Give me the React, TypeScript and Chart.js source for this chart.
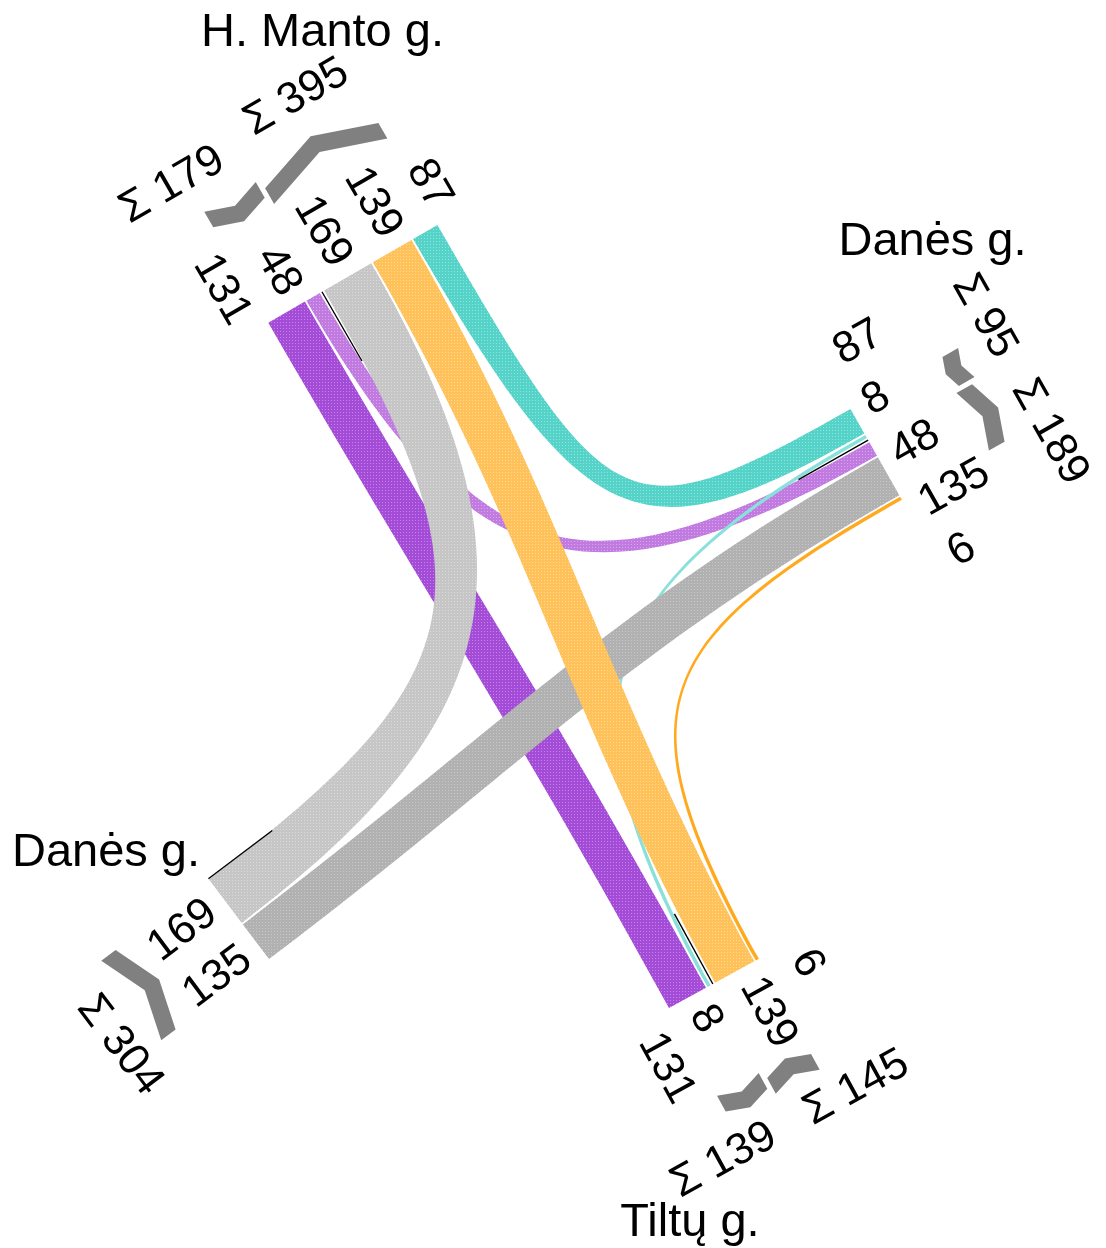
import React, { useEffect, useRef } from "react";
import { Chart, registerables } from "chart.js";

Chart.register(...registerables);

// ---------- data ----------
const STREETS = ["H. Manto g.", "Danės g.", "Tiltų g.", "Danės g."];
// arm index: 0 = top (H. Manto), 1 = right (Danės), 2 = bottom (Tiltų), 3 = left (Danės)
const FLOW_FROM = [2, 1, 0, 0, 0, 2, 1, 1];
const FLOW_TO = [0, 0, 3, 2, 1, 1, 3, 2];
const FLOW_VALUES = [131, 48, 169, 139, 87, 8, 135, 6];
// order of the flows along each arm's edge
const ARM_SLOTS = [
  [0, 1, 2, 3, 4],
  [4, 5, 1, 6, 7],
  [0, 5, 3, 7],
  [2, 6],
];

// ---------- styles ----------
const FLOW_COLORS = [
  ["#a44bd7", "#c088e5"],
  ["#c07ae0", "#d6a8ee"],
  ["#c6c6c6", "#dcdcdc"],
  ["#ffc25a", "#ffd994"],
  ["#55d3c9", "#90e4dc"],
  ["#8ae0da", "#8ae0da"],
  ["#b1b1b1", "#c8c8c8"],
  ["#ffaa1e", "#ffaa1e"],
];
const DRAW_ORDER = [0, 1, 5, 2, 6, 3, 4, 7];
const CHEVRON_COLOR = "#808080";
const FONT = '"Liberation Sans", Arial, sans-serif';

// ---------- layout ----------
const W = 1106;
const H = 1248;
const PX_PER_UNIT = 0.322;
const MIN_W = 3.5;
const GAP = 1.8;
const GROUP_GAP = 5;
// curve handle factor per flow (0 = use straight-ish default)
const HANDLE_K = [0, 0.8, 0.8, 0, 0.92, 0.8, 0, 0.85];
const LABEL_STEP = 58;
const ARMS = [
  { ox: 268.3, oy: 322.7, uAng: -30, nAng: 60, labelMid: 92.3, sumT: [-14.5, 137], sumD: [167, 181], nameX: 322.5, nameY: 46 },
  { ox: 850.5, oy: 409, uAng: 60.5, nAng: 150.5, labelMid: 62, sumT: [-15, 118], sumD: [162, 162], nameX: 932.5, nameY: 255 },
  { ox: 669, oy: 1008, uAng: -28.7, nAng: -118.7, labelMid: 55.7, sumT: [-25, 126], sumD: [160, 160], nameX: 690, nameY: 1236 },
  { ox: 209, oy: 879.5, uAng: 53, nAng: -37, labelMid: 54.2, sumT: [78.6], sumD: [171], nameX: 106, nameY: 866 },
];

const rad = (a: number) => (a * Math.PI) / 180;

function makePattern(ctx: CanvasRenderingContext2D, base: string, dot: string) {
  const c = document.createElement("canvas");
  c.width = 3;
  c.height = 3;
  const g = c.getContext("2d")!;
  g.fillStyle = base;
  g.fillRect(0, 0, 3, 3);
  g.fillStyle = dot;
  g.fillRect(1, 1, 1, 1);
  return ctx.createPattern(c, "repeat") || base;
}

const junctionPlugin = {
  id: "junction",
  afterDatasetsDraw(chart: any) {
    const ctx: CanvasRenderingContext2D = chart.ctx;
    const sx = chart.scales.x;
    const sy = chart.scales.y;
    const X = (v: number) => sx.getPixelForValue(v);
    const Y = (v: number) => sy.getPixelForValue(v);

    const arms = ARMS.map((a) => ({
      ...a,
      u: [Math.cos(rad(a.uAng)), Math.sin(rad(a.uAng))],
      n: [Math.cos(rad(a.nAng)), Math.sin(rad(a.nAng))],
    }));
    const P = (ai: number, t: number, d: number) => {
      const a = arms[ai];
      return [a.ox + a.u[0] * t + a.n[0] * d, a.oy + a.u[1] * t + a.n[1] * d];
    };
    const widthOf = (f: number) => Math.max(FLOW_VALUES[f] * PX_PER_UNIT, MIN_W);

    const pos: Record<number, [number, number]>[] = [];
    const groups: { kind: string; flows: number[]; t0: number; t1: number }[][] = [];
    ARM_SLOTS.forEach((slots, ai) => {
      const p: Record<number, [number, number]> = {};
      const gs: { kind: string; flows: number[]; t0: number; t1: number }[] = [];
      let t = 0;
      let prev = "";
      slots.forEach((f, i) => {
        const kind = FLOW_TO[f] === ai ? "in" : "out";
        if (i > 0) t += kind !== prev ? GROUP_GAP : GAP;
        const s = t;
        t += widthOf(f);
        p[f] = [s, t];
        if (kind !== prev) gs.push({ kind, flows: [f], t0: s, t1: t });
        else {
          gs[gs.length - 1].flows.push(f);
          gs[gs.length - 1].t1 = t;
        }
        prev = kind;
      });
      pos.push(p);
      groups.push(gs);
    });

    ctx.save();

    // ribbons
    DRAW_ORDER.forEach((f) => {
      const A = FLOW_FROM[f];
      const B = FLOW_TO[f];
      const nA = arms[A].n;
      const nB = arms[B].n;
      const [ta0, ta1] = pos[A][f];
      const [tb0, tb1] = pos[B][f];
      const a0 = P(A, ta0, 0);
      const a1 = P(A, ta1, 0);
      const b0 = P(B, tb0, 0);
      const b1 = P(B, tb1, 0);
      const am = P(A, (ta0 + ta1) / 2, 0);
      const bm = P(B, (tb0 + tb1) / 2, 0);
      const cross = (p: number[], q: number[]) => p[0] * q[1] - p[1] * q[0];
      const sA = Math.sign(cross(nA, [a0[0] - am[0], a0[1] - am[1]]));
      const sB = Math.sign(cross([-nB[0], -nB[1]], [b0[0] - bm[0], b0[1] - bm[1]]));
      const bFirst = sA === sB ? b0 : b1;
      const bSecond = sA === sB ? b1 : b0;

      const chord = Math.hypot(bm[0] - am[0], bm[1] - am[1]);
      const det = cross(nA, nB);
      let LA = 0.4 * chord;
      let LB = 0.4 * chord;
      const k = HANDLE_K[f];
      if (k > 0 && Math.abs(det) > 1e-6) {
        const dx = bm[0] - am[0];
        const dy = bm[1] - am[1];
        const s = (dx * nB[1] - dy * nB[0]) / det;
        const r = (dx * nA[1] - dy * nA[0]) / det;
        if (s > 0 && r > 0 && s < chord && r < chord) {
          LA = k * s;
          LB = k * r;
        }
      }

      ctx.beginPath();
      ctx.moveTo(X(a0[0]), Y(a0[1]));
      ctx.bezierCurveTo(
        X(a0[0] + nA[0] * LA), Y(a0[1] + nA[1] * LA),
        X(bFirst[0] + nB[0] * LB), Y(bFirst[1] + nB[1] * LB),
        X(bFirst[0]), Y(bFirst[1])
      );
      ctx.lineTo(X(bSecond[0]), Y(bSecond[1]));
      ctx.bezierCurveTo(
        X(bSecond[0] + nB[0] * LB), Y(bSecond[1] + nB[1] * LB),
        X(a1[0] + nA[0] * LA), Y(a1[1] + nA[1] * LA),
        X(a1[0]), Y(a1[1])
      );
      ctx.closePath();
      ctx.fillStyle = makePattern(ctx, FLOW_COLORS[f][0], FLOW_COLORS[f][1]) as any;
      ctx.fill();
    });

    // median lines
    ctx.strokeStyle = "#000";
    ctx.lineWidth = 1.4;
    groups.forEach((gs, ai) => {
      const tm = gs.length > 1 ? (gs[0].t1 + gs[1].t0) / 2 : -1;
      const p0 = P(ai, tm, 0);
      const p1 = P(ai, tm, 80);
      ctx.beginPath();
      ctx.moveTo(X(p0[0]), Y(p0[1]));
      ctx.lineTo(X(p1[0]), Y(p1[1]));
      ctx.stroke();
    });

    // chevrons
    ctx.fillStyle = CHEVRON_COLOR;
    groups.forEach((gs, ai) => {
      gs.forEach((g) => {
        const w = g.t1 - g.t0;
        const a = 0.17 * w;
        const tm = (g.t0 + g.t1) / 2;
        const base = 100;
        const th = 18;
        const dEnd = g.kind === "in" ? base + a : base;
        const dMid = g.kind === "in" ? base : base + a;
        const pts = [
          P(ai, g.t0, -dEnd),
          P(ai, tm, -dMid),
          P(ai, g.t1, -dEnd),
          P(ai, g.t1, -(dEnd + th)),
          P(ai, tm, -(dMid + th)),
          P(ai, g.t0, -(dEnd + th)),
        ];
        ctx.beginPath();
        pts.forEach((p, i) => (i ? ctx.lineTo(X(p[0]), Y(p[1])) : ctx.moveTo(X(p[0]), Y(p[1]))));
        ctx.closePath();
        ctx.fill();
      });
    });

    // value labels
    ctx.fillStyle = "#000";
    ctx.font = `44px ${FONT}`;
    ctx.textBaseline = "middle";
    ARM_SLOTS.forEach((slots, ai) => {
      const arm = arms[ai];
      const inwardReading = arm.n[0] > 0;
      const ang = inwardReading ? Math.atan2(arm.n[1], arm.n[0]) : Math.atan2(-arm.n[1], -arm.n[0]);
      slots.forEach((f, i) => {
        const t = arm.labelMid + (i - (slots.length - 1) / 2) * LABEL_STEP;
        const p = P(ai, t, -15);
        ctx.save();
        ctx.translate(X(p[0]), Y(p[1]));
        ctx.rotate(ang);
        ctx.textAlign = inwardReading ? "right" : "left";
        ctx.fillText(String(FLOW_VALUES[f]), 0, 0);
        ctx.restore();
      });
    });

    // sum labels
    groups.forEach((gs, ai) => {
      const arm = arms[ai];
      gs.forEach((g, gi) => {
        const sum = g.flows.reduce((s, f) => s + FLOW_VALUES[f], 0);
        const p = P(ai, arm.sumT[gi], -arm.sumD[gi]);
        ctx.save();
        ctx.translate(X(p[0]), Y(p[1]));
        ctx.rotate(Math.atan2(arm.u[1], arm.u[0]));
        ctx.textAlign = "center";
        ctx.fillText(`Σ ${sum}`, 0, 0);
        ctx.restore();
      });
    });

    // street names
    ctx.font = `47px ${FONT}`;
    ctx.textAlign = "center";
    ctx.textBaseline = "alphabetic";
    arms.forEach((arm, ai) => {
      ctx.fillText(STREETS[ai], X(arm.nameX), Y(arm.nameY));
    });

    ctx.restore();
  },
};

export default function App() {
  const ref = useRef<HTMLCanvasElement | null>(null);
  useEffect(() => {
    if (!ref.current) return;
    const chart = new Chart(ref.current, {
      type: "scatter",
      data: {
        datasets: [
          {
            data: ARMS.map((a) => ({ x: a.ox, y: a.oy })),
            pointRadius: 0,
            showLine: false,
          },
        ],
      },
      options: {
        responsive: false,
        maintainAspectRatio: false,
        animation: false,
        events: [],
        layout: { padding: 0 },
        plugins: { legend: { display: false }, tooltip: { enabled: false } },
        scales: {
          x: { type: "linear", min: 0, max: W, display: false },
          y: { type: "linear", min: 0, max: H, reverse: true, display: false },
        },
      },
      plugins: [junctionPlugin],
    } as any);
    return () => chart.destroy();
  }, []);
  return (
    <div style={{ position: "absolute", left: 0, top: 0, width: W, height: H, background: "#fff" }}>
      <canvas ref={ref} width={W} height={H} style={{ display: "block", width: W, height: H }} />
    </div>
  );
}
